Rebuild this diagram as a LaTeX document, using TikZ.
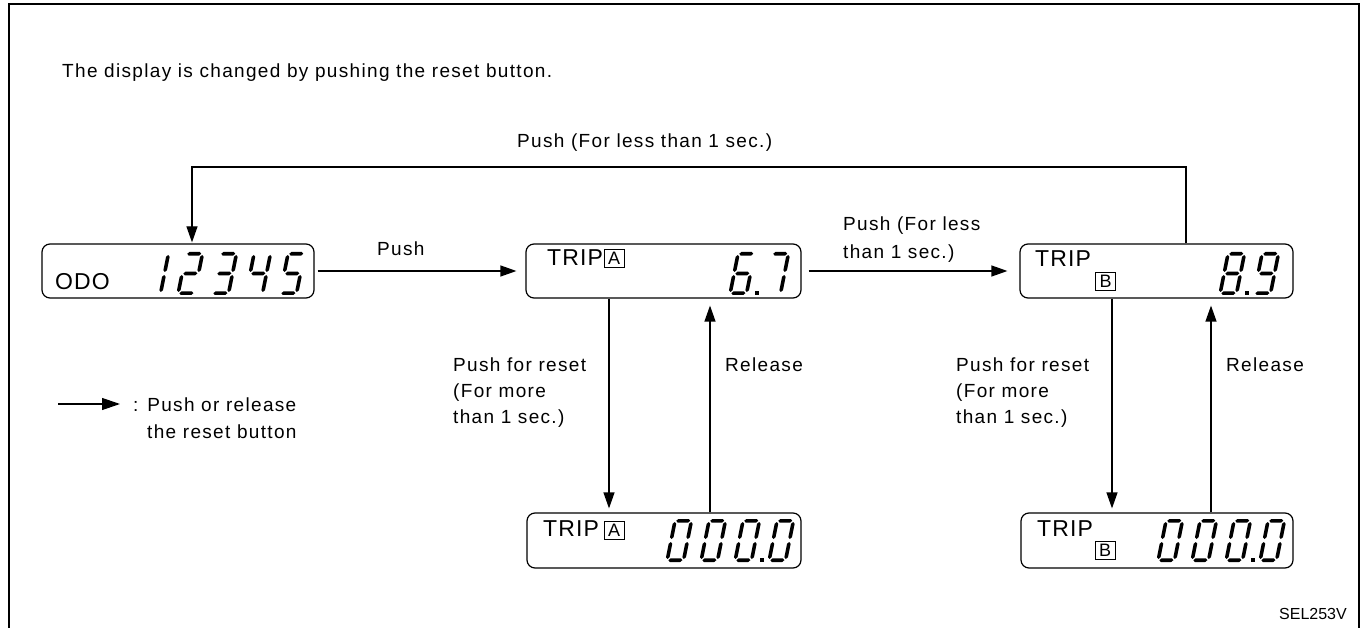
\documentclass[tikz,border=0pt]{standalone}
\usepackage{fontspec}
\setmainfont{Liberation Sans}
\newfontfamily\lblfam[LetterSpace=7]{Liberation Sans}
\newfontfamily\lcdfam[LetterSpace=5]{Liberation Sans}
\usetikzlibrary{arrows.meta}
\newcommand\lcdsega{\fill (3,41.2) -- (4.8,43) -- (15.2,43) -- (17,41.2) -- (15.2,39.4) -- (4.8,39.4) -- cycle;}
\newcommand\lcdsegg{\fill (3,21.5) -- (4.8,23.3) -- (15.2,23.3) -- (17,21.5) -- (15.2,19.7) -- (4.8,19.7) -- cycle;}
\newcommand\lcdsegd{\fill (3,1.8) -- (4.8,3.6) -- (15.2,3.6) -- (17,1.8) -- (15.2,0) -- (4.8,0) -- cycle;}
\newcommand\lcdsegf{\fill (1.8,23) -- (3.6,24.8) -- (3.6,38.2) -- (1.8,40) -- (0,38.2) -- (0,24.8) -- cycle;}
\newcommand\lcdsege{\fill (1.8,3) -- (3.6,4.8) -- (3.6,18.2) -- (1.8,20) -- (0,18.2) -- (0,4.8) -- cycle;}
\newcommand\lcdsegb{\fill (18.2,23) -- (20,24.8) -- (20,38.2) -- (18.2,40) -- (16.4,38.2) -- (16.4,24.8) -- cycle;}
\newcommand\lcdsegc{\fill (18.2,3) -- (20,4.8) -- (20,18.2) -- (18.2,20) -- (16.4,18.2) -- (16.4,4.8) -- cycle;}
\newcommand\lcddigit[3]{\begin{scope}[shift={(#1,#2)},xslant=0.2,yscale=-1]\foreach \s in {#3}{\csname lcdseg\s\endcsname}\end{scope}}
\newcommand\lcddot[2]{\fill (#1-1.9,#2-3.8) rectangle (#1+1.9,#2);}
\newcommand\lblfont{\lblfam\fontsize{19}{23}\selectfont}
\newcommand\lcdfont{\lcdfam\fontsize{23}{27}\selectfont}
\begin{document}
\begin{tikzpicture}[x=1pt,y=-1pt,
  lab/.style={inner sep=0pt,font=\lblfont},
  lcdlab/.style={inner sep=0pt,font=\lcdfont},
  lcdbox/.style={draw,line width=1.2pt,rounded corners=8pt,inner sep=0pt,minimum height=54pt},
  letbox/.style={draw,line width=0.9pt,inner sep=0pt,minimum width=20pt,minimum height=18pt,font=\fontsize{18}{20}\selectfont},
  arr/.style={line width=1.2pt,-{Triangle[length=16pt,width=11pt]}}]
\useasboundingbox (0,0) rectangle (1366,628);
% frame
\draw[line width=1.5pt] (9,628) -- (9,4) -- (1359,4) -- (1359,628);
% title
\node[lab,anchor=base west] (title) at (62,78) {The display is changed by pushing the reset button.};
% boxes
\node[lcdbox,minimum width=272pt] (odo) at (178,271) {};
\node[lcdbox,minimum width=275pt] (tripa) at (663.5,271) {};
\node[lcdbox,minimum width=273pt] (tripb) at (1156.5,271) {};
\node[lcdbox,minimum width=274pt,minimum height=55pt] (tripaz) at (664,540.5) {};
\node[lcdbox,minimum width=272pt,minimum height=55pt] (tripbz) at (1157,540.5) {};
% box texts
\node[lcdlab,anchor=base west] (odot) at (55,290) {ODO};
\node[lcdlab,anchor=base west] (tripat) at (547,266) {TRIP};
\node[letbox] (tripal) at (614,258.5) {A};
\node[lcdlab,anchor=base west] (tripbt) at (1035,266.5) {TRIP};
\node[letbox] (tripbl) at (1105.5,281) {B};
\node[lcdlab,anchor=base west] (tripazt) at (543,536.5) {TRIP};
\node[letbox] (tripazl) at (614,530) {A};
\node[lcdlab,anchor=base west] (tripbzt) at (1037,536.5) {TRIP};
\node[letbox] (tripbzl) at (1105,550) {B};
% digits
\lcddigit{142}{295}{b,c}
\lcddigit{176}{295}{a,b,g,e,d}
\lcddigit{210}{295}{a,b,g,c,d}
\lcddigit{244}{295}{f,g,b,c}
\lcddigit{278}{295}{a,f,g,c,d}
\lcddigit{728}{295}{a,f,g,e,d,c}
\lcddot{757}{295}
\lcddigit{762}{295}{a,b,c}
\lcddigit{1218}{295}{a,b,c,d,e,f,g}
\lcddot{1247}{295}
\lcddigit{1252}{295}{a,b,c,d,f,g}
\lcddigit{665}{562}{a,b,c,d,e,f}
\lcddigit{699}{562}{a,b,c,d,e,f}
\lcddigit{733}{562}{a,b,c,d,e,f}
\lcddot{762}{562}
\lcddigit{767}{562}{a,b,c,d,e,f}
\lcddigit{1156}{562}{a,b,c,d,e,f}
\lcddigit{1190}{562}{a,b,c,d,e,f}
\lcddigit{1224}{562}{a,b,c,d,e,f}
\lcddot{1253}{562}
\lcddigit{1258}{562}{a,b,c,d,e,f}
% connector coordinates
\coordinate (xloopo) at (192,0);
\coordinate (xloopb) at (1186,0);
\coordinate (ytop) at (0,167);
\coordinate (xda) at (609,0);
\coordinate (xua) at (710,0);
\coordinate (xdb) at (1112,0);
\coordinate (xub) at (1211,0);
% connectors
\draw[arr,shorten <=3pt,shorten >=9pt] (odo.east) -- (tripa.west);
\draw[arr,shorten <=7pt,shorten >=12pt] (tripa.east) -- (tripb.west);
\draw[arr,shorten >=1pt] (tripb.north -| xloopb) -- (xloopb |- ytop) -- (xloopo |- ytop) -- (odo.north -| xloopo);
\draw[arr,shorten >=4pt] (tripa.south -| xda) -- (tripaz.north -| xda);
\draw[arr,shorten >=7pt] (tripaz.north -| xua) -- (tripa.south -| xua);
\draw[arr,shorten >=4pt] (tripb.south -| xdb) -- (tripbz.north -| xdb);
\draw[arr,shorten >=7pt] (tripbz.north -| xub) -- (tripb.south -| xub);
% labels
\node[lab,anchor=base west] (lloop) at (517,148) {Push (For less than 1 sec.)};
\node[lab,anchor=base west] (lpush) at (377,256) {Push};
\node[lab,anchor=base west] (lab1) at (843,231) {Push (For less};
\node[lab,anchor=base west] (lab2) at (843,259) {than 1 sec.)};
\node[lab,anchor=base west] (lra1) at (453,371) {Push for reset};
\node[lab,anchor=base west] (lra2) at (453,397) {(For more};
\node[lab,anchor=base west] (lra3) at (453,423) {than 1 sec.)};
\node[lab,anchor=base west] (lrela) at (725,371) {Release};
\node[lab,anchor=base west] (lrb1) at (956,371) {Push for reset};
\node[lab,anchor=base west] (lrb2) at (956,397) {(For more};
\node[lab,anchor=base west] (lrb3) at (956,423) {than 1 sec.)};
\node[lab,anchor=base west] (lrelb) at (1226,371) {Release};
% legend
\coordinate (lg1) at (58,404);
\coordinate (lg2) at (120,404);
\draw[line width=1.2pt,-{Triangle[length=18pt,width=12pt]}] (lg1) -- (lg2);
\node[lab,anchor=base west] (lg3) at (133,411) {: Push or release};
\node[lab,anchor=base west] (lg4) at (147,438) {the reset button};
% code
\node[inner sep=0pt,anchor=base east,font=\fontsize{16}{18}\selectfont] (code) at (1347,619) {SEL253V};
\end{tikzpicture}
\end{document}
